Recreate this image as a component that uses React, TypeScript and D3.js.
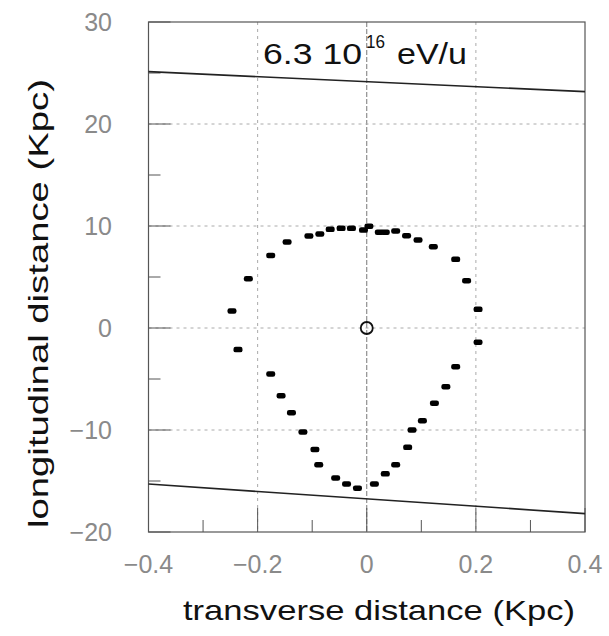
import React from "react";
import * as d3 from "d3";

// Data
const pointsX = [
  -0.247, -0.217, -0.176, -0.146, -0.106, -0.086, -0.067, -0.047, -0.028, -0.006,
  0.004, 0.023, 0.034, 0.053, 0.073, 0.094, 0.122, 0.163, 0.183, 0.204,
  0.204, 0.163, 0.145, 0.124, 0.102, 0.083, 0.075, 0.053, 0.034, 0.014,
  -0.017, -0.037, -0.057, -0.088, -0.095, -0.117, -0.138, -0.157, -0.176, -0.236,
];
const pointsY = [
  1.67, 4.83, 7.12, 8.43, 9.02, 9.22, 9.67, 9.77, 9.77, 9.6,
  9.97, 9.38, 9.38, 9.51, 9.05, 8.63, 7.97, 6.73, 4.64, 1.83,
  -1.4, -3.79, -5.75, -7.38, -9.09, -10.0, -11.7, -13.4, -14.3, -15.3,
  -15.7, -15.3, -14.7, -13.4, -11.9, -10.2, -8.3, -6.63, -4.51, -2.12,
];
const upperLineX = [-0.4, 0.4];
const upperLineY = [25.13, 23.17];
const lowerLineX = [-0.4, 0.4];
const lowerLineY = [-15.3, -18.2];
const centerX = [0];
const centerY = [0];

const xMajor = [-0.4, -0.2, 0, 0.2, 0.4];
const xMinor = [-0.3, -0.1, 0.1, 0.3];
const xTickLabels = ["\u22120.4", "\u22120.2", "0", "0.2", "0.4"];
const yMajor = [-20, -10, 0, 10, 20, 30];
const yMinor = [-15, -5, 5, 15, 25];
const yTickLabels = ["\u221220", "\u221210", "0", "10", "20", "30"];

const W = 609;
const H = 636;
const L = 148.5, R = 585, T = 22, B = 532;

export default function App() {
  const x = d3.scaleLinear().domain([-0.4, 0.4]).range([L, R]);
  const y = d3.scaleLinear().domain([-20, 30]).range([B, T]);
  const line = d3
    .line<[number, number]>()
    .x((d) => x(d[0]))
    .y((d) => y(d[1]));
  const up: [number, number][] = upperLineX.map((v, i) => [v, upperLineY[i]]);
  const lo: [number, number][] = lowerLineX.map((v, i) => [v, lowerLineY[i]]);
  const font = "'Liberation Sans', Arial, Helvetica, sans-serif";
  const tickColor = "#8a8a8a";

  return (
    <svg
      width={W}
      height={H}
      style={{ position: "absolute", left: 0, top: 0, background: "#fff" }}
      fontFamily={font}
    >
      <rect x={0} y={0} width={W} height={H} fill="#fff" />
      {/* grid */}
      {xMajor.slice(1, -1).map((v) => (
        <line
          key={"gx" + v}
          x1={x(v)}
          x2={x(v)}
          y1={T}
          y2={B}
          stroke={v === 0 ? "#777" : "#aaa"}
          strokeWidth={1}
          strokeDasharray={v === 0 ? "5,2" : "3,4"}
        />
      ))}
      {yMajor.slice(1, -1).map((v) => (
        <line
          key={"gy" + v}
          x1={L}
          x2={R}
          y1={y(v)}
          y2={y(v)}
          stroke="#aaa"
          strokeWidth={1}
          strokeDasharray="3,4"
        />
      ))}
      {/* ticks */}
      {xMajor.map((v) => (
        <line key={"tx" + v} x1={x(v)} x2={x(v)} y1={B} y2={B - 24} stroke="#555" strokeWidth={1} />
      ))}
      {xMinor.map((v) => (
        <line key={"tmx" + v} x1={x(v)} x2={x(v)} y1={B} y2={B - 12} stroke="#555" strokeWidth={1} />
      ))}
      {yMajor.map((v) => (
        <line key={"ty" + v} x1={L} x2={L + 22} y1={y(v)} y2={y(v)} stroke="#555" strokeWidth={1} />
      ))}
      {yMinor.map((v) => (
        <line key={"tmy" + v} x1={L} x2={L + 12} y1={y(v)} y2={y(v)} stroke="#555" strokeWidth={1} />
      ))}
      {/* frame */}
      <rect x={L} y={T} width={R - L} height={B - T} fill="none" stroke="#555" strokeWidth={1.2} />
      {/* boundary lines */}
      <path d={line(up) || ""} fill="none" stroke="#222" strokeWidth={1.6} />
      <path d={line(lo) || ""} fill="none" stroke="#222" strokeWidth={1.6} />
      {/* points */}
      {pointsX.map((v, i) => (
        <rect
          key={"p" + i}
          x={x(v) - 4.5}
          y={y(pointsY[i]) - 2.75}
          width={9}
          height={5.5}
          rx={2.2}
          fill="#000"
        />
      ))}
      {centerX.map((v, i) => (
        <circle key={"c" + i} cx={x(v)} cy={y(centerY[i])} r={6} fill="none" stroke="#111" strokeWidth={1.8} />
      ))}
      {/* tick labels */}
      {xMajor.map((v, i) => (
        <text key={"lx" + v} x={x(v)} y={573} textAnchor="middle" fontSize={25} fill={tickColor}>
          {xTickLabels[i]}
        </text>
      ))}
      {yMajor.map((v, i) => (
        <text
          key={"ly" + v}
          x={112}
          y={y(v) + 9}
          textAnchor="end"
          fontSize={25}
          fill={tickColor}
        >
          {yTickLabels[i]}
        </text>
      ))}
      {/* title */}
      <text x={263} y={64} fontSize={29} fill="#111" textLength={99} lengthAdjust="spacingAndGlyphs">
        6.3 10
      </text>
      <text x={366} y={48} fontSize={19} fill="#111" textLength={19} lengthAdjust="spacingAndGlyphs">
        16
      </text>
      <text x={397} y={64} fontSize={29} fill="#111" textLength={70} lengthAdjust="spacingAndGlyphs">
        eV/u
      </text>
      {/* axis labels */}
      <text x={183} y={620} fontSize={28} fill="#111" textLength={392} lengthAdjust="spacingAndGlyphs">
        transverse distance (Kpc)
      </text>
      <text
        transform="translate(48,303.5) rotate(-90)"
        textAnchor="middle"
        fontSize={28}
        fill="#111"
        textLength={449}
        lengthAdjust="spacingAndGlyphs"
      >
        longitudinal distance (Kpc)
      </text>
    </svg>
  );
}
